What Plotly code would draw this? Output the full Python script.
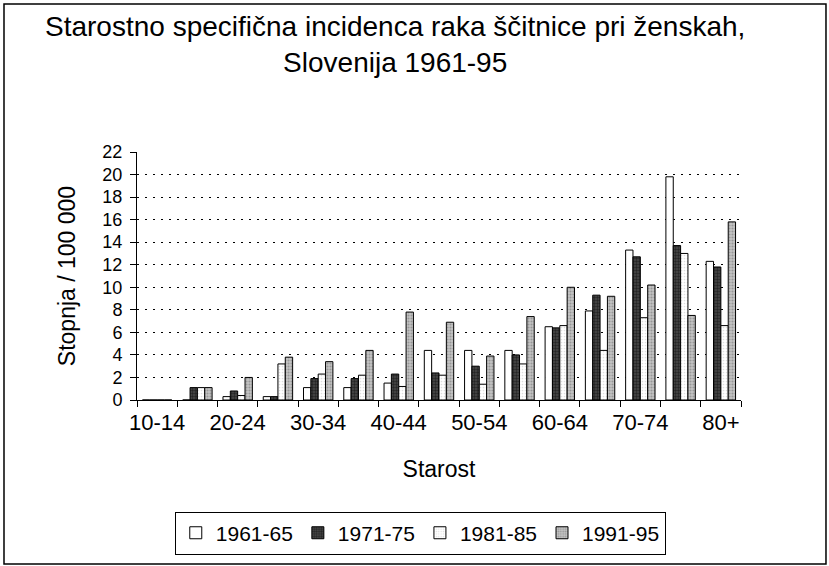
import plotly.graph_objects as go

age_groups = ["10-14", "15-19", "20-24", "25-29", "30-34", "35-39", "40-44",
              "45-49", "50-54", "55-59", "60-64", "65-69", "70-74", "75-79", "80+"]
tick_labels = ["10-14", "", "20-24", "", "30-34", "", "40-44", "",
               "50-54", "", "60-64", "", "70-74", "", "80+"]

p1961_65 = [0, 0, 0.3, 0.3, 1.1, 1.1, 1.5, 4.4, 4.4, 4.4, 6.5, 7.9, 13.3, 19.8, 12.3]
p1971_75 = [0, 1.1, 0.8, 0.3, 1.9, 1.9, 2.3, 2.4, 3.0, 4.0, 6.4, 9.3, 12.7, 13.7, 11.8]
p1981_85 = [0, 1.1, 0.4, 3.2, 2.3, 2.2, 1.2, 2.2, 1.4, 3.2, 6.6, 4.4, 7.3, 13.0, 6.6]
p1991_95 = [0, 1.1, 2.0, 3.8, 3.4, 4.4, 7.8, 6.9, 3.9, 7.4, 10.0, 9.2, 10.2, 7.5, 15.8]

series_names = ["1961-65", "1971-75", "1981-85", "1991-95"]

FONT = "Liberation Sans, Arial, sans-serif"

styles = [
    dict(color="white", pattern=None),
    dict(color="#2a2a2a", pattern=dict(shape=".", bgcolor="#4a4a4a", fgcolor="#000000", size=3, solidity=0.5)),
    dict(color="#f4f4f4", pattern=dict(shape=".", bgcolor="#ffffff", fgcolor="#bdbdbd", size=3, solidity=0.25)),
    dict(color="#a8a8a8", pattern=dict(shape=".", bgcolor="#c4c4c4", fgcolor="#6a6a6a", size=3, solidity=0.4)),
]

fig = go.Figure()
for name, vals, st in zip(series_names, [p1961_65, p1971_75, p1981_85, p1991_95], styles):
    marker = dict(color=st["color"], line=dict(color="black", width=1))
    if st["pattern"]:
        marker["pattern"] = st["pattern"]
    fig.add_trace(go.Bar(x=age_groups, y=vals, name=name, marker=marker))

fig.update_layout(
    width=829, height=566,
    paper_bgcolor="white", plot_bgcolor="white",
    margin=dict(l=137, r=88, t=152, b=166, autoexpand=False),
    barmode="group", bargap=0.27, bargroupgap=0,
    font=dict(family=FONT, color="black"),
    legend=dict(
        orientation="h", x=0.469, xanchor="center", y=-0.45, yanchor="top",
        bordercolor="black", borderwidth=1, bgcolor="white",
        font=dict(size=21, family=FONT), traceorder="normal",
        itemwidth=30, tracegroupgap=0,
    ),
    showlegend=True,
)

# chart title (two lines)
fig.add_annotation(
    text="Starostno specifična incidenca raka ščitnice pri ženskah,<br>Slovenija 1961-95",
    xref="paper", yref="paper", x=0.427, y=1.575, xanchor="center", yanchor="top",
    showarrow=False, font=dict(size=28, family=FONT, color="black"),
)

fig.update_xaxes(
    type="category",
    tickmode="array", tickvals=age_groups, ticktext=tick_labels,
    tickson="boundaries", ticks="outside", ticklen=6, tickcolor="black",
    tickangle=0, ticklabelstandoff=3,
    showline=True, linecolor="black", linewidth=1,
    showgrid=False, zeroline=False,
    tickfont=dict(size=22, family=FONT),
    title=dict(text="Starost", font=dict(size=23, family=FONT), standoff=26),
    range=[-0.5, 14.5], automargin=False,
)

fig.update_yaxes(
    range=[0, 22], tickmode="linear", tick0=0, dtick=2,
    ticks="outside", ticklen=6, tickcolor="black",
    ticklabelstandoff=4,
    showline=True, linecolor="black", linewidth=1,
    showgrid=True, gridcolor="black", gridwidth=1, griddash="2px,6px",
    zeroline=False,
    tickfont=dict(size=18, family=FONT),
    title=dict(text="Stopnja / 100 000", font=dict(size=23, family=FONT), standoff=20),
    automargin=False,
)

# outer chart border
fig.add_shape(type="rect", xref="paper", yref="paper",
              x0=-0.2202, x1=1.1407, y0=-0.6613, y1=1.5968,
              line=dict(color="black", width=1.5), fillcolor="rgba(0,0,0,0)", layer="below")

fig.write_html("out.html", config={"displayModeBar": False},
               post_script="document.body.style.margin='0px';document.body.style.overflow='hidden';")
